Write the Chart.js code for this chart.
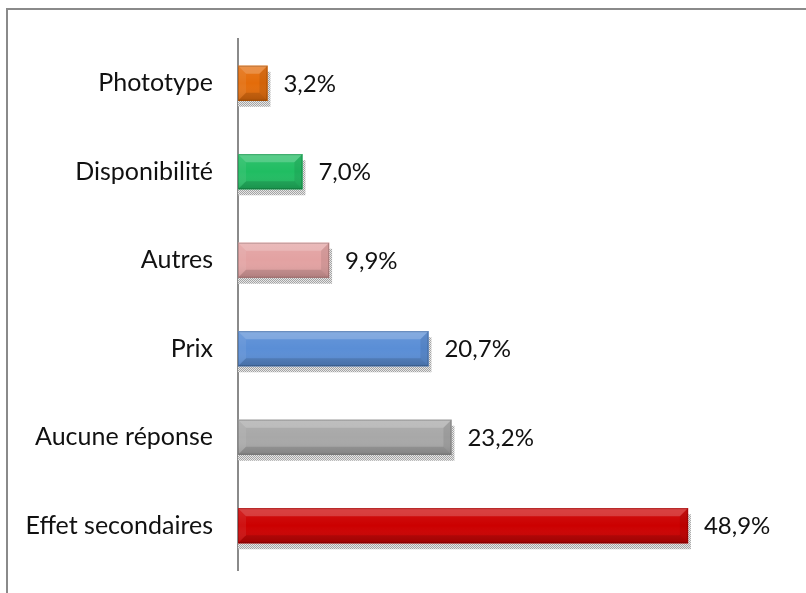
<!DOCTYPE html>
<html>
<head>
<meta charset="utf-8">
<script src="https://cdn.jsdelivr.net/npm/chart.js@4.4.1/dist/chart.umd.min.js"></script>
<style>
  html, body { margin: 0; padding: 0; background: #fff; }
  #wrap { width: 806px; height: 593px; position: relative; }
</style>
</head>
<body>
<div id="wrap"><canvas id="viz" width="806" height="593"></canvas></div>
<script>
// raisons citées, du haut vers le bas
const categories = ['Phototype', 'Disponibilité', 'Autres', 'Prix', 'Aucune réponse', 'Effet secondaires'];
const values = [3.2, 7.0, 9.9, 20.7, 23.2, 48.9];
const barColors = ['#E46C0A', '#20BD62', '#E3A2A2', '#5A8ED6', '#A8A8A8', '#CC0000'];

const FONT = 'Lato, "Open Sans", sans-serif';

// dotted grey pattern used for the drop shadow under each bar
function makeShadowPattern(ctx) {
  const c = document.createElement('canvas');
  c.width = 2; c.height = 2;
  const p = c.getContext('2d');
  p.fillStyle = '#e6e6e6';
  p.fillRect(0, 0, 2, 2);
  p.fillStyle = '#a4a4a4';
  p.fillRect(0, 0, 1, 1);
  p.fillRect(1, 1, 1, 1);
  return ctx.createPattern(c, 'repeat');
}

const framePlugin = {
  id: 'frame',
  beforeDraw(chart) {
    const ctx = chart.ctx;
    ctx.save();
    ctx.strokeStyle = '#8a8a8a';
    ctx.lineWidth = 2;
    ctx.beginPath();
    ctx.moveTo(806, 9);
    ctx.lineTo(7, 9);
    ctx.lineTo(7, 593);
    ctx.stroke();
    ctx.restore();
  }
};

const shadowPlugin = {
  id: 'barShadow',
  beforeDatasetsDraw(chart) {
    const ctx = chart.ctx;
    const pattern = makeShadowPattern(ctx);
    chart.getDatasetMeta(0).data.forEach(bar => {
      const { x, y, base, height } = bar.getProps(['x', 'y', 'base', 'height'], true);
      ctx.save();
      ctx.fillStyle = pattern;
      ctx.fillRect(base, y - height / 2 + 6, x - base + 3, height);
      ctx.restore();
    });
  }
};

// bevel: light top/left faces, dark bottom/right faces
const bevelPlugin = {
  id: 'bevel',
  afterDatasetsDraw(chart) {
    const ctx = chart.ctx;
    chart.getDatasetMeta(0).data.forEach(bar => {
      const { x, y, base, height } = bar.getProps(['x', 'y', 'base', 'height'], true);
      const x0 = base, x1 = x, y0 = y - height / 2, y1 = y + height / 2;
      const b = Math.min(8, (x1 - x0) / 2, height / 2);
      const poly = (pts, fill) => {
        ctx.beginPath();
        ctx.moveTo(pts[0][0], pts[0][1]);
        for (let i = 1; i < pts.length; i++) ctx.lineTo(pts[i][0], pts[i][1]);
        ctx.closePath();
        ctx.fillStyle = fill;
        ctx.fill();
      };
      ctx.save();
      // face shading, darker toward the bottom
      const g = ctx.createLinearGradient(0, y0, 0, y1);
      g.addColorStop(0, 'rgba(255,255,255,0.08)');
      g.addColorStop(0.5, 'rgba(255,255,255,0)');
      g.addColorStop(1, 'rgba(0,0,0,0.12)');
      ctx.fillStyle = g;
      ctx.fillRect(x0, y0, x1 - x0, y1 - y0);
      poly([[x0, y0], [x1, y0], [x1 - b, y0 + b], [x0 + b, y0 + b]], 'rgba(255,255,255,0.20)');
      poly([[x0, y0], [x0 + b, y0 + b], [x0 + b, y1 - b], [x0, y1]], 'rgba(255,255,255,0.07)');
      poly([[x1, y0], [x1, y1], [x1 - b, y1 - b], [x1 - b, y0 + b]], 'rgba(0,0,0,0.08)');
      poly([[x0, y1], [x0 + b, y1 - b], [x1 - b, y1 - b], [x1, y1]], 'rgba(0,0,0,0.12)');
      ctx.strokeStyle = 'rgba(0,0,0,0.18)';
      ctx.lineWidth = 1;
      ctx.strokeRect(x0 + 0.5, y0 + 0.5, x1 - x0 - 1, y1 - y0 - 1);
      ctx.restore();
    });
  }
};

const valueLabelPlugin = {
  id: 'valueLabels',
  afterDatasetsDraw(chart) {
    const ctx = chart.ctx;
    ctx.save();
    ctx.font = '24px ' + FONT;
    ctx.fillStyle = '#111';
    ctx.textAlign = 'left';
    ctx.textBaseline = 'middle';
    chart.getDatasetMeta(0).data.forEach((bar, i) => {
      const txt = values[i].toFixed(1).replace('.', ',') + '%';
      ctx.fillText(txt, bar.x + 16, bar.y + 1);
    });
    ctx.restore();
  }
};

const ctx = document.getElementById('viz');
const chart = new Chart(ctx, {
  type: 'bar',
  data: {
    labels: categories,
    datasets: [{
      data: values,
      backgroundColor: barColors,
      borderWidth: 0,
      barThickness: 35
    }]
  },
  options: {
    indexAxis: 'y',
    responsive: false,
    animation: false,
    layout: { padding: { top: 39, bottom: 23, left: 0, right: 16 } },
    plugins: {
      legend: { display: false },
      tooltip: { enabled: false }
    },
    scales: {
      x: { display: false, min: 0, max: 60 },
      y: {
        // fixed label column, and no extra vertical margin from the tick padding
        afterFit: scale => {
          scale.width = 238;
          scale.paddingTop = 0;
          scale.paddingBottom = 0;
        },
        grid: { display: false, drawTicks: false },
        border: { display: true, color: '#8a8a8a', width: 2 },
        ticks: {
          padding: 25,
          color: '#111',
          font: { family: FONT, size: 25 }
        }
      }
    }
  },
  plugins: [framePlugin, shadowPlugin, bevelPlugin, valueLabelPlugin]
});
</script>
</body>
</html>
